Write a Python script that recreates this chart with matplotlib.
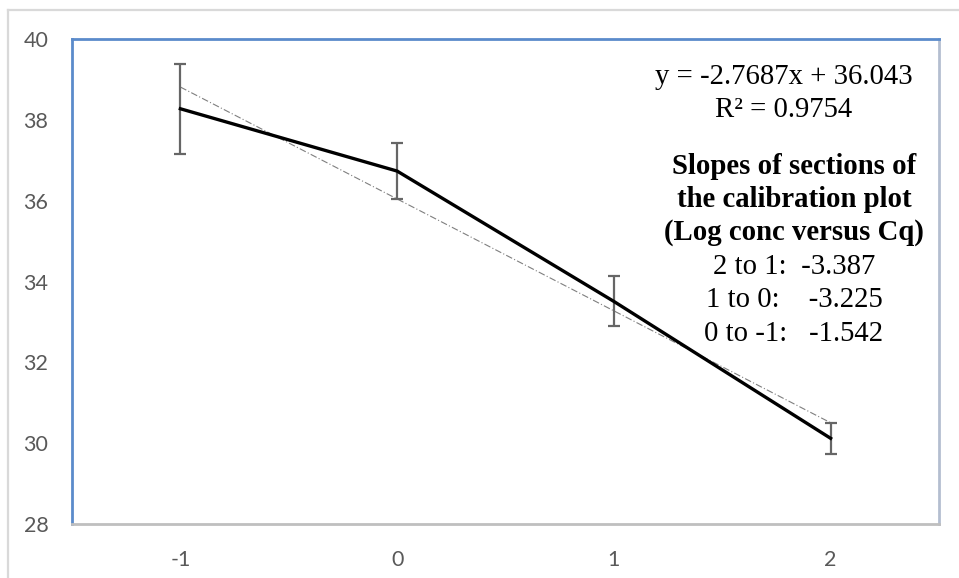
import numpy as np
import matplotlib
matplotlib.use("Agg")
import matplotlib.pyplot as plt
from matplotlib.lines import Line2D

# Log concentration vs. mean Cq
log_conc = [-1, 0, 1, 2]
mean_cq = [38.274, 36.732, 33.507, 30.120]
cq_err = [1.11, 0.70, 0.62, 0.39]

y_ticks = [28, 30, 32, 34, 36, 38, 40]

trend_label = ["y = -2.7687x + 36.043", "R\u00b2 = 0.9754"]
slope_title = ["Slopes of sections of", "the calibration plot", "(Log conc versus Cq)"]
slope_lines = ["2 to 1:  -3.387", "1 to 0:    -3.225", "0 to -1:   -1.542"]

W, H = 959, 578
fig = plt.figure(figsize=(W / 100, H / 100), dpi=100)
fig.patch.set_facecolor("white")

# outer chart frame
frame_kw = dict(color="#D9D9D9", lw=1.6, transform=fig.transFigure)
fig.add_artist(Line2D([8 / W, 8 / W], [0, 1 - 10 / H], **frame_kw))
fig.add_artist(Line2D([8 / W, 1], [1 - 10 / H, 1 - 10 / H], **frame_kw))

left, right, top, bottom = 72, 939, 39, 524
ax = fig.add_axes([left / W, 1 - bottom / H, (right - left) / W, (bottom - top) / H])

ax.set_xlim(-1.5, 2.5)
ax.set_ylim(28, 40)

# linear trendline over the data range
coef = np.polyfit(log_conc, mean_cq, 1)
xt = np.array([log_conc[0], log_conc[-1]])
ax.plot(xt, np.polyval(coef, xt), color="#7F7F7F", lw=0.8, ls=(0, (6, 2, 1, 2)), zorder=2)

ax.errorbar(log_conc, mean_cq, yerr=cq_err, fmt="none", ecolor="#666666",
            elinewidth=1.6, capsize=4.5, capthick=1.6, zorder=3)
ax.plot(log_conc, mean_cq, color="black", lw=2.4, solid_joinstyle="miter", zorder=4)

# spines
for side, col in [("left", "#5B8BCB"), ("top", "#5B8BCB"),
                  ("right", "#B4BED0"), ("bottom", "#BFBFBF")]:
    ax.spines[side].set_color(col)
    ax.spines[side].set_linewidth(2.0)

ax.set_xticks(log_conc)
ax.set_xticklabels([str(v) for v in log_conc])
ax.set_yticks(y_ticks)
ax.set_yticklabels([str(v) for v in y_ticks])
ax.tick_params(axis="both", length=0, labelsize=15.5, labelcolor="#595959")
ax.tick_params(axis="x", pad=19)
ax.tick_params(axis="y", pad=17)
for lbl in ax.get_xticklabels() + ax.get_yticklabels():
    lbl.set_family("Lato")

serif = "Liberation Serif"
fs = 20.7
step = 33.4
for i, t in enumerate(trend_label):
    fig.text(784 / W, 1 - (77 + i * step) / H, t, ha="center", va="center",
             fontsize=fs, family=serif, color="black")
for i, t in enumerate(slope_title):
    fig.text(794 / W, 1 - (166 + i * step) / H, t, ha="center", va="center",
             fontsize=fs, family=serif, fontweight="bold", color="black")
for i, t in enumerate(slope_lines):
    fig.text(794 / W, 1 - (267 + i * step) / H, t, ha="center", va="center",
             fontsize=fs, family=serif, color="black")

fig.savefig("out.png", dpi=100)
